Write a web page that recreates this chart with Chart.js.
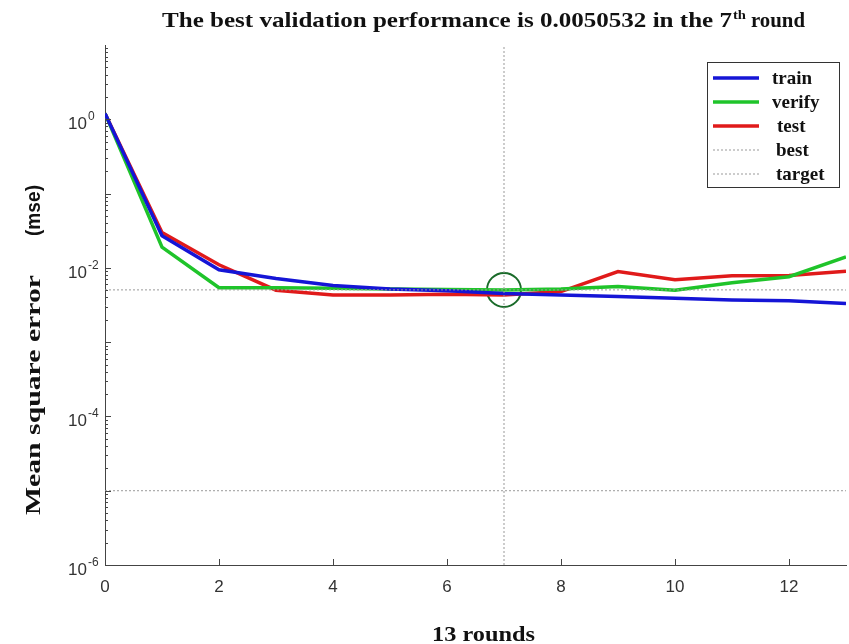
<!DOCTYPE html>
<html>
<head>
<meta charset="utf-8">
<script src="https://cdn.jsdelivr.net/npm/chart.js@4.4.1/dist/chart.umd.min.js"></script>
<style>
  html, body { margin: 0; padding: 0; background: #fff; }
  #perf { display: block; }
</style>
</head>
<body>
<canvas id="perf" width="849" height="644"></canvas>
<script>
// data
const rounds    = [0, 1, 2, 3, 4, 5, 6, 7, 8, 9, 10, 11, 12, 13];
const trainMse  = [1.2, 0.027, 0.0094, 0.0072, 0.0058, 0.0052, 0.0049, 0.0045, 0.0043, 0.0041, 0.0039, 0.0037, 0.0036, 0.0033];
const verifyMse = [1.2, 0.019, 0.0054, 0.0054, 0.0053, 0.0052, 0.0051, 0.0050532, 0.0052, 0.0056, 0.0050, 0.0063, 0.0076, 0.014];
const testMse   = [1.2, 0.030, 0.011, 0.0050, 0.0043, 0.0043, 0.0044, 0.0043, 0.0048, 0.0089, 0.0069, 0.0078, 0.0079, 0.0090];
const bestRound = 7;
const bestPerf  = 0.0050532;
const targetMse = 1e-5;
const xTicks    = [0, 2, 4, 6, 8, 10, 12];
const yTicks    = [1e-6, 1e-4, 1e-2, 1];
const legendNames = ['train', 'verify', 'test', 'best', 'target'];

const SERIF = '"Liberation Serif", "Times New Roman", serif';
const SANS = '"Liberation Sans", Arial, sans-serif';
const dotted = '#9a9a9a';
const pts = ys => rounds.map((r, i) => ({x: r, y: ys[i]}));

// draw text left-aligned at x, squeezed/stretched to width w
function fitText(ctx, txt, x, y, w) {
    const m = ctx.measureText(txt).width;
    ctx.save();
    ctx.translate(x, y);
    ctx.scale(w / m, 1);
    ctx.textAlign = 'left';
    ctx.fillText(txt, 0, 0);
    ctx.restore();
}

const decor = {
    id: 'decor',
    afterDraw(chart) {
        const {ctx, chartArea: a, scales: {x, y}} = chart;
        ctx.save();
        ctx.fillStyle = '#111';
        ctx.textBaseline = 'alphabetic';

        // title with superscript "th"
        ctx.font = 'bold 22px ' + SERIF;
        fitText(ctx, 'The best validation performance is 0.0050532 in the 7', 162, 27, 570);
        ctx.font = 'bold 13px ' + SERIF;
        fitText(ctx, 'th', 733, 19, 13);
        ctx.font = 'bold 22px ' + SERIF;
        fitText(ctx, 'round', 751, 27, 54);

        // x title
        ctx.font = 'bold 22px ' + SERIF;
        fitText(ctx, '13 rounds', 432, 641, 103);

        // y title
        ctx.save();
        ctx.translate(40, 0);
        ctx.rotate(-Math.PI / 2);
        ctx.font = 'bold 22px ' + SERIF;
        fitText(ctx, 'Mean square error', -515, 0, 240);
        ctx.font = 'bold 20px ' + SANS;
        fitText(ctx, '(mse)', -236, 0, 51);
        ctx.restore();

        // y tick labels with raised exponents
        ctx.fillStyle = '#333';
        yTicks.forEach(v => {
            const py = y.getPixelForValue(v);
            const e = String(Math.round(Math.log10(v)));
            ctx.font = '17px ' + SANS;
            ctx.textAlign = 'right';
            ctx.fillText('10', 87, py + 10);
            ctx.font = '12px ' + SANS;
            ctx.textAlign = 'left';
            ctx.fillText(e, 88, py + 1);
        });

        // inward tick marks
        ctx.strokeStyle = '#444';
        ctx.lineWidth = 1;
        ctx.beginPath();
        xTicks.forEach(v => {
            const px = Math.round(x.getPixelForValue(v)) + 0.5;
            ctx.moveTo(px, a.bottom); ctx.lineTo(px, a.bottom - 6);
        });
        for (let e = -6; e < 1; e++) {
            for (let m = 1; m < 10; m++) {
                const py = Math.round(y.getPixelForValue(m * Math.pow(10, e))) + 0.5;
                ctx.moveTo(a.left, py); ctx.lineTo(a.left + (m === 1 ? 6 : 3), py);
            }
        }
        ctx.stroke();

        // legend
        const lx = 707, ly = 62, lw = 132, lh = 125;
        ctx.fillStyle = '#fff';
        ctx.fillRect(lx, ly, lw, lh);
        ctx.strokeStyle = '#333';
        ctx.strokeRect(lx + 0.5, ly + 0.5, lw, lh);
        const cols = ['#1515d6', '#1fc42a', '#e01a1a', dotted, dotted];
        const textX = [772, 772, 777, 776, 776];
        ctx.font = 'bold 19px ' + SERIF;
        ctx.textAlign = 'left';
        legendNames.forEach((n, i) => {
            const yy = ly + 16 + i * 24;
            ctx.beginPath();
            ctx.strokeStyle = cols[i];
            ctx.lineWidth = i < 3 ? 3.5 : 1;
            ctx.setLineDash(i < 3 ? [] : [2, 2]);
            ctx.moveTo(713, yy); ctx.lineTo(759, yy);
            ctx.stroke();
            ctx.setLineDash([]);
            ctx.fillStyle = '#111';
            ctx.fillText(n, textX[i], yy + 6);
        });
        ctx.restore();
    }
};

new Chart(document.getElementById('perf'), {
    type: 'line',
    data: {
        datasets: [
            {label: 'best', data: [{x: 0, y: bestPerf}, {x: 13, y: bestPerf}], borderColor: dotted, borderWidth: 1, borderDash: [2, 2], pointRadius: 0},
            {label: 'target', data: [{x: 0, y: targetMse}, {x: 13, y: targetMse}], borderColor: dotted, borderWidth: 1, borderDash: [2, 2], pointRadius: 0},
            {label: 'bestV', data: [{x: bestRound, y: 1e-6}, {x: bestRound, y: 10}], borderColor: dotted, borderWidth: 1, borderDash: [2, 2], pointRadius: 0},
            {label: 'train', data: pts(trainMse), borderColor: '#1515d6', borderWidth: 3.5, pointRadius: 0, tension: 0},
            {label: 'verify', data: pts(verifyMse), borderColor: '#1fc42a', borderWidth: 3.5, pointRadius: 0, tension: 0},
            {label: 'test', data: pts(testMse), borderColor: '#e01a1a', borderWidth: 3.5, pointRadius: 0, tension: 0},
            {label: 'circle', data: [{x: bestRound, y: bestPerf}], showLine: false, pointRadius: 17, pointBorderWidth: 2,
             pointBorderColor: '#1a6b2a', pointBackgroundColor: 'rgba(0,0,0,0)'}
        ]
    },
    options: {
        responsive: false,
        animation: false,
        layout: {autoPadding: false, padding: {top: 45, right: 3, bottom: 0, left: 0}},
        plugins: {legend: {display: false}, tooltip: {enabled: false}},
        scales: {
            x: {
                type: 'linear',
                min: 0, max: 13,
                afterBuildTicks: s => { s.ticks = xTicks.map(v => ({value: v})); },
                afterFit: s => { s.height = 79; s.paddingLeft = 0; s.paddingRight = 0; },
                grid: {display: false},
                border: {display: true, color: '#444', width: 1},
                ticks: {color: '#333', padding: 4, font: {size: 17, family: SANS}}
            },
            y: {
                type: 'logarithmic',
                min: 1e-6, max: 10,
                afterBuildTicks: s => { s.ticks = yTicks.map(v => ({value: v})); },
                afterFit: s => { s.width = 105; s.paddingTop = 0; s.paddingBottom = 0; },
                grid: {display: false},
                border: {display: true, color: '#444', width: 1},
                ticks: {display: false}
            }
        }
    },
    plugins: [decor]
});
</script>
</body>
</html>
